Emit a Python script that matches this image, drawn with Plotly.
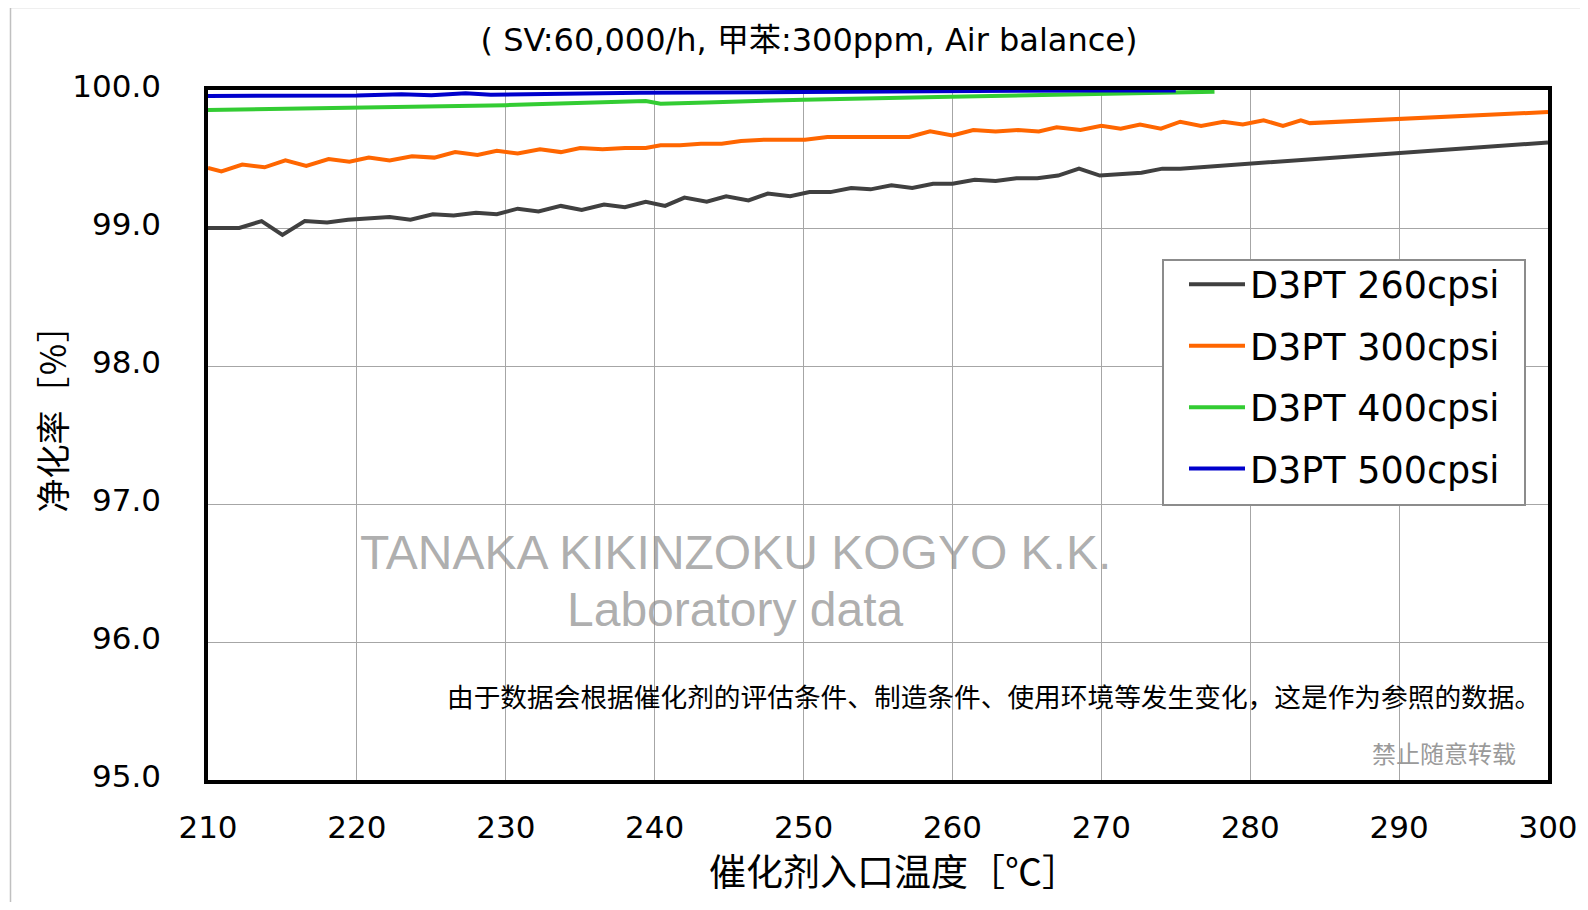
import plotly.graph_objects as go

# ---------------- data ----------------
t_260 = [210.0, 212.1, 213.6, 215.0, 216.5, 218.0, 219.4, 220.9, 222.2, 223.6, 225.1, 226.5,
         228.0, 229.4, 230.8, 232.2, 233.7, 235.1, 236.6, 238.0, 239.4, 240.7, 242.0, 243.5,
         244.8, 246.3, 247.6, 249.1, 250.4, 251.8, 253.2, 254.5, 255.9, 257.3, 258.7, 260.0,
         261.5, 262.9, 264.3, 265.7, 267.1, 268.5, 269.9, 272.7, 274.1, 275.3, 300.0]
v_260 = [99.00, 99.00, 99.05, 98.95, 99.05, 99.04, 99.06, 99.07, 99.08, 99.06, 99.10, 99.09,
         99.11, 99.10, 99.14, 99.12, 99.16, 99.13, 99.17, 99.15, 99.19, 99.16, 99.22, 99.19,
         99.23, 99.20, 99.25, 99.23, 99.26, 99.26, 99.29, 99.28, 99.31, 99.29, 99.32, 99.32,
         99.35, 99.34, 99.36, 99.36, 99.38, 99.43, 99.38, 99.40, 99.43, 99.43, 99.62]

t_300 = [210.0, 210.9, 212.3, 213.8, 215.2, 216.6, 218.1, 219.5, 220.8, 222.2, 223.7, 225.2,
         226.6, 228.1, 229.4, 230.8, 232.3, 233.7, 235.0, 236.5, 238.0, 239.4, 240.4, 241.7,
         243.1, 244.5, 245.8, 247.4, 248.8, 250.1, 251.6, 253.0, 254.4, 255.7, 257.1, 258.5,
         260.0, 261.4, 262.9, 264.4, 265.8, 267.0, 268.6, 270.0, 271.3, 272.6, 274.0, 275.3,
         276.7, 278.2, 279.5, 280.9, 282.2, 283.4, 284.0, 300.0]
v_300 = [99.435, 99.41, 99.46, 99.44, 99.49, 99.45, 99.50, 99.48, 99.51, 99.49, 99.52, 99.51,
         99.55, 99.53, 99.56, 99.54, 99.57, 99.55, 99.58, 99.57, 99.58, 99.58, 99.60, 99.60,
         99.61, 99.61, 99.63, 99.64, 99.64, 99.64, 99.66, 99.66, 99.66, 99.66, 99.66, 99.70,
         99.67, 99.71, 99.70, 99.71, 99.70, 99.73, 99.71, 99.74, 99.72, 99.75, 99.72, 99.77,
         99.74, 99.77, 99.75, 99.78, 99.74, 99.78, 99.76, 99.84]

t_400 = [210.0, 220.0, 230.0, 239.4, 240.4, 243.5, 250.0, 259.0, 269.3, 273.7, 277.6]
v_400 = [99.855, 99.875, 99.89, 99.92, 99.90, 99.91, 99.93, 99.95, 99.97, 99.976, 99.988]

t_500 = [210.0, 220.0, 223.0, 225.0, 227.3, 229.0, 239.0, 250.0, 255.0, 262.0, 270.0, 275.0]
v_500 = [99.957, 99.96, 99.97, 99.962, 99.976, 99.966, 99.98, 99.988, 99.99, 99.995, 99.997, 99.997]

series_names = ["D3PT 260cpsi", "D3PT 300cpsi", "D3PT 400cpsi", "D3PT 500cpsi"]
series_colors = ["#404040", "#FF6600", "#33CC33", "#0000CC"]
x_ticks = [210, 220, 230, 240, 250, 260, 270, 280, 290, 300]
y_ticks = [95.0, 96.0, 97.0, 98.0, 99.0, 100.0]

title_text = "( SV:60,000/h, 甲苯:300ppm, Air balance)"
x_title = "催化剂入口温度［℃］"
y_title = "净化率［％］"
watermark1 = "TANAKA KIKINZOKU KOGYO K.K."
watermark2 = "Laboratory data"
note_text = "由于数据会根据催化剂的评估条件、制造条件、使用环境等发生变化，这是作为参照的数据。"
note2_text = "禁止随意转载"

# ---------------- layout geometry ----------------
# The page body has an 8px margin; the figure is sized so that it fits without scrollbars.
OFF = 8
W, H = 1572, 894
ML, MR, MT, MB = 200, 32, 82, 122          # plot area in page coords: x 208..1548, y 90..780
PW, PH = W - ML - MR, H - MT - MB


def px(page_x):
    return (page_x - OFF - ML) / PW


def py(page_y):
    return (H - MB - (page_y - OFF)) / PH


fig = go.Figure()
for i, (tx, vy) in enumerate([(t_260, v_260), (t_300, v_300), (t_400, v_400), (t_500, v_500)]):
    fig.add_trace(go.Scatter(
        x=tx, y=vy, mode="lines", name=series_names[i],
        line=dict(color=series_colors[i], width=4),
        legendgroup="g%d" % i,
    ))

fig.update_layout(
    width=W, height=H,
    margin=dict(l=ML, r=MR, t=MT, b=MB, autoexpand=False),
    paper_bgcolor="white", plot_bgcolor="white",
    showlegend=True,
    legend=dict(
        x=px(1184), y=py(254), xanchor="left", yanchor="top",
        bgcolor="rgba(0,0,0,0)", borderwidth=0,
        font=dict(family="DejaVu Sans", size=36.5, color="black"),
        traceorder="grouped", tracegroupgap=11, itemwidth=56,
    ),
    title=dict(text=title_text, xref="container", x=(809 - OFF) / W, xanchor="center",
               yref="container", y=1 - (40 - OFF) / H, yanchor="middle",
               font=dict(family="DejaVu Sans, Noto Sans CJK SC", size=32, color="black")),
)

fig.update_xaxes(
    range=[210, 300], tickmode="array", tickvals=x_ticks, ticktext=[str(v) for v in x_ticks],
    showgrid=True, gridcolor="#A6A6A6", gridwidth=1,
    showline=True, linecolor="black", linewidth=3.5, mirror=True,
    ticks="", ticklabelstandoff=17,
    tickfont=dict(family="DejaVu Sans", size=31, color="black"),
    zeroline=False,
)
fig.update_yaxes(
    range=[95, 100], tickmode="array", tickvals=y_ticks, ticktext=["%.1f" % v for v in y_ticks],
    showgrid=True, gridcolor="#A6A6A6", gridwidth=1,
    showline=True, linecolor="black", linewidth=3.5, mirror=True,
    ticks="", ticklabelstandoff=37, ticklabelshift=-4,
    tickfont=dict(family="DejaVu Sans", size=31, color="black"),
    zeroline=False,
)

# axis titles
fig.add_annotation(text=x_title, xref="paper", yref="paper", x=px(894), y=py(870),
                   xanchor="center", yanchor="middle", showarrow=False,
                   font=dict(family="Noto Sans CJK SC", size=37, color="black"))
fig.add_annotation(text=y_title, xref="paper", yref="paper", x=px(50.5), y=py(411),
                   xanchor="center", yanchor="middle", showarrow=False, textangle=-90,
                   font=dict(family="Noto Sans CJK SC", size=34, color="black"))

# legend frame (white box over the grid)
fig.add_shape(type="rect", xref="paper", yref="paper",
              x0=px(1163), x1=px(1525), y0=py(505), y1=py(260),
              fillcolor="white", line=dict(color="#8C8C8C", width=2), layer="above")

# watermark and notes
fig.add_annotation(text=watermark1, xref="paper", yref="paper", x=px(735), y=py(552),
                   xanchor="center", yanchor="middle", showarrow=False,
                   font=dict(family="Liberation Sans", size=48, color="rgba(140,140,140,0.7)"))
fig.add_annotation(text=watermark2, xref="paper", yref="paper", x=px(735), y=py(609),
                   xanchor="center", yanchor="middle", showarrow=False,
                   font=dict(family="Liberation Sans", size=48, color="rgba(140,140,140,0.7)"))
fig.add_annotation(text=note_text, xref="paper", yref="paper", x=px(1543), y=py(695),
                   xanchor="right", yanchor="middle", showarrow=False,
                   font=dict(family="Noto Sans CJK SC", size=26.7, color="black"))
fig.add_annotation(text=note2_text, xref="paper", yref="paper", x=px(1518), y=py(752),
                   xanchor="right", yanchor="middle", showarrow=False,
                   font=dict(family="Noto Sans CJK SC", size=24, color="#9A9A9A"))

# thin outer frame (left and top edges)
fig.add_shape(type="line", xref="paper", yref="paper", x0=px(10.5), x1=px(10.5), y0=py(7.5), y1=py(910),
              line=dict(color="#C0C0C0", width=1.5))
fig.add_shape(type="line", xref="paper", yref="paper", x0=px(10.5), x1=px(1588), y0=py(7.5), y1=py(7.5),
              line=dict(color="#C0C0C0", width=1.5))

fig.write_html("out.html")
